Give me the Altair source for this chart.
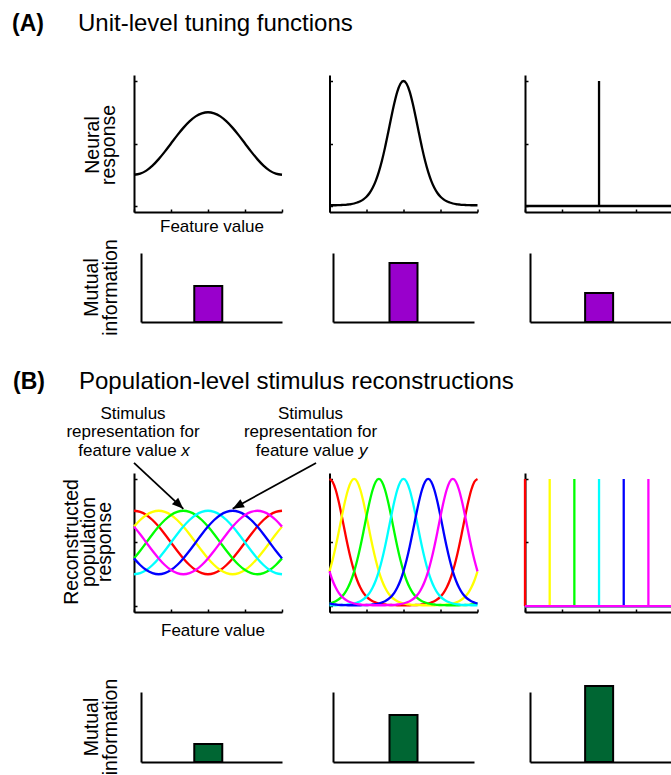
import altair as alt
import pandas as pd

FONT = "Liberation Sans"

# ---------------- data ----------------
# feature-value sample positions
T25 = [0.0, 0.0417, 0.0833, 0.125, 0.1667, 0.2083, 0.25, 0.2917, 0.3333, 0.375,
       0.4167, 0.4583, 0.5, 0.5417, 0.5833, 0.625, 0.6667, 0.7083, 0.75, 0.7917,
       0.8333, 0.875, 0.9167, 0.9583, 1.0]
T49 = [0.0, 0.0208, 0.0417, 0.0625, 0.0833, 0.1042, 0.125, 0.1458, 0.1667, 0.1875,
       0.2083, 0.2292, 0.25, 0.2708, 0.2917, 0.3125, 0.3333, 0.3542, 0.375, 0.3958,
       0.4167, 0.4375, 0.4583, 0.4792, 0.5, 0.5208, 0.5417, 0.5625, 0.5833, 0.6042,
       0.625, 0.6458, 0.6667, 0.6875, 0.7083, 0.7292, 0.75, 0.7708, 0.7917, 0.8125,
       0.8333, 0.8542, 0.875, 0.8958, 0.9167, 0.9375, 0.9583, 0.9792, 1.0]

# (A) unit-level tuning functions
A1_RESP = [0.25, 0.259, 0.283, 0.323, 0.375, 0.435, 0.5, 0.565, 0.625, 0.677, 0.717, 0.741, 0.75,
           0.741, 0.717, 0.677, 0.625, 0.565, 0.5, 0.435, 0.375, 0.323, 0.283, 0.259, 0.25]
A2_RESP = [0.006, 0.006, 0.006, 0.007, 0.008, 0.009, 0.012, 0.015, 0.020, 0.028, 0.038, 0.053,
           0.074, 0.104, 0.146, 0.201, 0.273, 0.362, 0.467, 0.584, 0.706, 0.820, 0.915, 0.978, 1.0,
           0.978, 0.915, 0.820, 0.706, 0.584, 0.467, 0.362, 0.273, 0.201, 0.146, 0.104, 0.074,
           0.053, 0.038, 0.028, 0.020, 0.015, 0.012, 0.009, 0.008, 0.007, 0.006, 0.006, 0.006]
A3_PEAK = [0.5]
A3_PEAK_HEIGHT = [1.0]
BASE_T = [0.0, 1.0]
BASE_V = [0.0, 0.0]

# mutual information bars
MI_A = [0.52, 0.855, 0.42]
MI_B = [0.257, 0.67, 1.086]
BAR_POS = [0.5]

# (B) population-level reconstructions
SERIES = ["red", "yellow", "green", "cyan", "blue", "magenta"]
COLORS = ["#ff0000", "#ffff00", "#00ff00", "#00ffff", "#0000ff", "#ff00ff"]

B1_RED = [0.75, 0.741, 0.717, 0.677, 0.625, 0.565, 0.5, 0.435, 0.375, 0.323, 0.283, 0.259, 0.25,
          0.259, 0.283, 0.323, 0.375, 0.435, 0.5, 0.565, 0.625, 0.677, 0.717, 0.741, 0.75]
B1_YELLOW = [0.625, 0.677, 0.717, 0.741, 0.75, 0.741, 0.717, 0.677, 0.625, 0.565, 0.5, 0.435, 0.375,
             0.323, 0.283, 0.259, 0.25, 0.259, 0.283, 0.323, 0.375, 0.435, 0.5, 0.565, 0.625]
B1_GREEN = [0.375, 0.435, 0.5, 0.565, 0.625, 0.677, 0.717, 0.741, 0.75, 0.741, 0.717, 0.677, 0.625,
            0.565, 0.5, 0.435, 0.375, 0.323, 0.283, 0.259, 0.25, 0.259, 0.283, 0.323, 0.375]
B1_CYAN = [0.25, 0.259, 0.283, 0.323, 0.375, 0.435, 0.5, 0.565, 0.625, 0.677, 0.717, 0.741, 0.75,
           0.741, 0.717, 0.677, 0.625, 0.565, 0.5, 0.435, 0.375, 0.323, 0.283, 0.259, 0.25]
B1_BLUE = [0.375, 0.323, 0.283, 0.259, 0.25, 0.259, 0.283, 0.323, 0.375, 0.435, 0.5, 0.565, 0.625,
           0.677, 0.717, 0.741, 0.75, 0.741, 0.717, 0.677, 0.625, 0.565, 0.5, 0.435, 0.375]
B1_MAGENTA = [0.625, 0.565, 0.5, 0.435, 0.375, 0.323, 0.283, 0.259, 0.25, 0.259, 0.283, 0.323, 0.375,
              0.435, 0.5, 0.565, 0.625, 0.677, 0.717, 0.741, 0.75, 0.741, 0.717, 0.677, 0.625]

B2_RED = [1.0, 0.978, 0.915, 0.820, 0.706, 0.584, 0.467, 0.362, 0.273, 0.201, 0.146, 0.104, 0.074,
          0.053, 0.038, 0.028, 0.020, 0.015, 0.012, 0.009, 0.008, 0.007, 0.006, 0.006, 0.006,
          0.006, 0.006, 0.007, 0.008, 0.009, 0.012, 0.015, 0.020, 0.028, 0.038, 0.053, 0.074,
          0.104, 0.146, 0.201, 0.273, 0.362, 0.467, 0.584, 0.706, 0.820, 0.915, 0.978, 1.0]
B2_YELLOW = [0.273, 0.362, 0.467, 0.584, 0.706, 0.820, 0.915, 0.978, 1.0, 0.978, 0.915, 0.820, 0.706,
             0.584, 0.467, 0.362, 0.273, 0.201, 0.146, 0.104, 0.074, 0.053, 0.038, 0.028, 0.020,
             0.015, 0.012, 0.009, 0.008, 0.007, 0.006, 0.006, 0.006, 0.006, 0.006, 0.007, 0.008,
             0.009, 0.012, 0.015, 0.020, 0.028, 0.038, 0.053, 0.074, 0.104, 0.146, 0.201, 0.273]
B2_GREEN = [0.020, 0.028, 0.038, 0.053, 0.074, 0.104, 0.146, 0.201, 0.273, 0.362, 0.467, 0.584, 0.706,
            0.820, 0.915, 0.978, 1.0, 0.978, 0.915, 0.820, 0.706, 0.584, 0.467, 0.362, 0.273,
            0.201, 0.146, 0.104, 0.074, 0.053, 0.038, 0.028, 0.020, 0.015, 0.012, 0.009, 0.008,
            0.007, 0.006, 0.006, 0.006, 0.006, 0.006, 0.007, 0.008, 0.009, 0.012, 0.015, 0.020]
B2_CYAN = [0.006, 0.006, 0.006, 0.007, 0.008, 0.009, 0.012, 0.015, 0.020, 0.028, 0.038, 0.053,
           0.074, 0.104, 0.146, 0.201, 0.273, 0.362, 0.467, 0.584, 0.706, 0.820, 0.915, 0.978, 1.0,
           0.978, 0.915, 0.820, 0.706, 0.584, 0.467, 0.362, 0.273, 0.201, 0.146, 0.104, 0.074,
           0.053, 0.038, 0.028, 0.020, 0.015, 0.012, 0.009, 0.008, 0.007, 0.006, 0.006, 0.006]
B2_BLUE = [0.020, 0.015, 0.012, 0.009, 0.008, 0.007, 0.006, 0.006, 0.006, 0.006, 0.006, 0.007, 0.008,
           0.009, 0.012, 0.015, 0.020, 0.028, 0.038, 0.053, 0.074, 0.104, 0.146, 0.201, 0.273,
           0.362, 0.467, 0.584, 0.706, 0.820, 0.915, 0.978, 1.0, 0.978, 0.915, 0.820, 0.706,
           0.584, 0.467, 0.362, 0.273, 0.201, 0.146, 0.104, 0.074, 0.053, 0.038, 0.028, 0.020]
B2_MAGENTA = [0.273, 0.201, 0.146, 0.104, 0.074, 0.053, 0.038, 0.028, 0.020, 0.015, 0.012, 0.009,
              0.008, 0.007, 0.006, 0.006, 0.006, 0.006, 0.006, 0.007, 0.008, 0.009, 0.012, 0.015,
              0.020, 0.028, 0.038, 0.053, 0.074, 0.104, 0.146, 0.201, 0.273, 0.362, 0.467, 0.584,
              0.706, 0.820, 0.915, 0.978, 1.0, 0.978, 0.915, 0.820, 0.706, 0.584, 0.467, 0.362, 0.273]

B1_CURVES = [B1_RED, B1_YELLOW, B1_GREEN, B1_CYAN, B1_BLUE, B1_MAGENTA]
B2_CURVES = [B2_RED, B2_YELLOW, B2_GREEN, B2_CYAN, B2_BLUE, B2_MAGENTA]
B3_PEAKS = [0.0, 0.1667, 0.3333, 0.5, 0.6667, 0.8333]
B3_PEAK_HEIGHT = [1.0, 1.0, 1.0, 1.0, 1.0, 1.0]

# annotation arrows (start -> tip, in panel B1 data units)
ARROW_X = [0.0, 1.23]
ARROW_Y = [1.126, 1.126]
ARROW_TIP_X = [0.3333, 0.6667]
ARROW_TIP_Y = [0.765, 0.765]
ARROW_ANGLE = [133.4, 240.7]

# ---------------- layout helpers ----------------
ONE = pd.DataFrame({"k": [0]})
AX = dict(labels=False, title=None, grid=False, domainColor="black", domainWidth=2,
          tickColor="black", tickWidth=1.5, tickSize=3)
AXB = dict(labels=False, title=None, grid=False, domainColor="black", domainWidth=2, ticks=False)

COL_W = [148, 148, 146]
TOP_XDOM = [[0, 1], [0, 1], [0, 0.986]]
TOP_XTICKS = [[0, 0.25, 0.5, 0.75, 1], [0, 0.25, 0.5, 0.75, 1], [0, 0.25, 0.5, 0.75]]
BAR_XDOM = [[0.047, 1.0], [0.024, 0.976], [0.034, 0.986]]
BAR_XRANGE = [[7, 148], [3.5, 144.5], [5, 146]]
ROW_H = [178, 220, 219, 70]
PLOT_H = [137, 69, 139, 70]
YDOM_A = [-0.048, 1.048]
YDOM_B = [-0.047, 1.047]
LW = 2.3


def top_x(col, ph, field):
    return alt.X(f"{field}:Q", scale=alt.Scale(domain=TOP_XDOM[col]),
                 axis=alt.Axis(orient="top", offset=-ph, values=TOP_XTICKS[col], **AX))


def top_y(col, ph, ydom, field):
    return alt.Y(f"{field}:Q", scale=alt.Scale(domain=ydom, range=[ph, 0]),
                 axis=alt.Axis(orient="right", offset=-COL_W[col], values=[0, 0.5, 1], **AX))


def txt(text, x, y, size=17, align="center", baseline="alphabetic", angle=None,
        weight="normal", style="normal", line_height=None):
    kw = dict(text=text, align=align, baseline=baseline, fontSize=size, font=FONT,
              color="black", fontWeight=weight, fontStyle=style)
    if angle is not None:
        kw["angle"] = angle
    if line_height is not None:
        kw["lineHeight"] = line_height
    return alt.Chart(ONE).mark_text(**kw).encode(x=alt.value(x), y=alt.value(y))


def line_layer(ts, vs, col, ph, ydom, color="black", clip=False):
    df = pd.DataFrame({"t": ts, "v": vs})
    return alt.Chart(df).mark_line(color=color, strokeWidth=LW, interpolate="monotone", clip=clip).encode(
        x=top_x(col, ph, "t"), y=top_y(col, ph, ydom, "v"))


def spike_layer(ts, hs, col, ph, ydom, color="black"):
    df = pd.DataFrame({"t": ts, "lo": [0.0] * len(ts), "hi": hs})
    return alt.Chart(df).mark_rule(color=color, strokeWidth=LW).encode(
        x=top_x(col, ph, "t"), y=top_y(col, ph, ydom, "lo"), y2="hi:Q")


def bar_cell(col, ph, h, value, color):
    df = pd.DataFrame({"pos": BAR_POS, "mi": [value]})
    return alt.Chart(df).mark_bar(size=28, fill=color, stroke="black", strokeWidth=2,
                                  orient="vertical").encode(
        x=alt.X("pos:Q", scale=alt.Scale(domain=BAR_XDOM[col], range=BAR_XRANGE[col]),
                axis=alt.Axis(orient="top", offset=-ph, **AXB)),
        y=alt.Y("mi:Q", scale=alt.Scale(domain=[0, 1], range=[ph, 0]),
                axis=alt.Axis(orient="left", offset=-BAR_XRANGE[col][0], **AXB)),
    )


# ---------------- row 1 : (A) tuning functions ----------------
anchor = alt.Chart(ONE).mark_rule(strokeWidth=0, strokeOpacity=0).encode(
    x=alt.value(-134), y=alt.value(-75), x2=alt.value(537), y2=alt.value(700))

ph = PLOT_H[0]
A1 = alt.layer(
    line_layer(T25, A1_RESP, 0, ph, YDOM_A),
    txt("(A)", -122, -44.5, size=23, align="left", weight="bold"),
    txt("Unit-level tuning functions", -56, -44.5, size=24, align="left"),
    txt(["Neural", "response"], -35.5, 70, size=19.5, angle=270, line_height=16.5),
    txt("Feature value", 78, 157),
    anchor,
).properties(width=COL_W[0], height=ROW_H[0])

A2 = alt.layer(line_layer(T49, A2_RESP, 1, ph, YDOM_A)).properties(width=COL_W[1], height=ROW_H[0])

A3 = alt.layer(
    line_layer(BASE_T, BASE_V, 2, ph, YDOM_A, clip=True),
    spike_layer(A3_PEAK, A3_PEAK_HEIGHT, 2, ph, YDOM_A),
).properties(width=COL_W[2], height=ROW_H[0])

# ---------------- row 2 : (A) mutual information ----------------
PURPLE = "#9900cc"
ph = PLOT_H[1]
Ab1 = alt.layer(
    bar_cell(0, ph, ROW_H[1], MI_A[0], PURPLE),
    txt(["Mutual", "information"], -36, 34.5, size=19.5, angle=270, line_height=18.5),
).properties(width=COL_W[0], height=ROW_H[1])
Ab2 = alt.layer(bar_cell(1, ph, ROW_H[1], MI_A[1], PURPLE)).properties(width=COL_W[1], height=ROW_H[1])
Ab3 = alt.layer(bar_cell(2, ph, ROW_H[1], MI_A[2], PURPLE)).properties(width=COL_W[2], height=ROW_H[1])

# ---------------- row 3 : (B) reconstructions ----------------
ph = PLOT_H[2]
arrow_df = pd.DataFrame({"ax": ARROW_X, "ay": ARROW_Y, "tx": ARROW_TIP_X, "ty": ARROW_TIP_Y,
                         "ang": ARROW_ANGLE})
arrow_lines = alt.Chart(arrow_df).mark_rule(color="black", strokeWidth=1.8).encode(
    x=top_x(0, ph, "ax"), y=top_y(0, ph, YDOM_B, "ay"), x2="tx:Q", y2="ty:Q")
arrow_heads = alt.Chart(arrow_df).mark_point(
    shape="M0,0L-0.4,1L0.4,1Z", filled=True, color="black", size=520, opacity=1, strokeWidth=0
).encode(x=top_x(0, ph, "tx"), y=top_y(0, ph, YDOM_B, "ty"), angle=alt.Angle("ang:Q", scale=None))

b1_layers = [line_layer(T25, vs, 0, ph, YDOM_B, color=c) for vs, c in zip(B1_CURVES, COLORS)]
B1 = alt.layer(
    *b1_layers,
    arrow_lines,
    arrow_heads,
    txt("(B)", -121, -84, size=23, align="left", weight="bold"),
    txt("Population-level stimulus reconstructions", -55, -84, size=24, align="left"),
    txt("Stimulus", -1, -54),
    txt("representation for", -1, -36),
    txt("feature value", 42.6, -17, align="right"),
    txt("x", 47.3, -17, align="left", style="italic"),
    txt("Stimulus", 176.5, -54),
    txt("representation for", 176.5, -36),
    txt("feature value", 220, -17, align="right"),
    txt("y", 225, -17, align="left", style="italic"),
    txt(["Reconstructed", "population", "response"], -56, 69, size=19.5, angle=270, line_height=16.5),
    txt("Feature value", 79, 163),
).properties(width=COL_W[0], height=ROW_H[2])

b2_layers = [line_layer(T49, vs, 1, ph, YDOM_B, color=c) for vs, c in zip(B2_CURVES, COLORS)]
B2 = alt.layer(*b2_layers).properties(width=COL_W[1], height=ROW_H[2])

b3_spikes = [spike_layer([p], [h], 2, ph, YDOM_B, color=c)
             for p, h, c in zip(B3_PEAKS, B3_PEAK_HEIGHT, COLORS)]
b3_bases = [line_layer(BASE_T, BASE_V, 2, ph, YDOM_B, color=c, clip=True) for c in COLORS]
B3 = alt.layer(*b3_spikes, *b3_bases).properties(width=COL_W[2], height=ROW_H[2])

# ---------------- row 4 : (B) mutual information ----------------
GREEN = "#006633"
ph = PLOT_H[3]
Bb1 = alt.layer(
    bar_cell(0, ph, ROW_H[3], MI_B[0], GREEN),
    txt(["Mutual", "information"], -36, 35, size=19.5, angle=270, line_height=18.5),
).properties(width=COL_W[0], height=ROW_H[3])
Bb2 = alt.layer(bar_cell(1, ph, ROW_H[3], MI_B[1], GREEN)).properties(width=COL_W[1], height=ROW_H[3])
Bb3 = alt.layer(bar_cell(2, ph, ROW_H[3], MI_B[2], GREEN)).properties(width=COL_W[2], height=ROW_H[3])

chart = alt.concat(
    A1, A2, A3, Ab1, Ab2, Ab3, B1, B2, B3, Bb1, Bb2, Bb3,
    columns=3,
    spacing={"row": 0, "column": 47.5},
    bounds="flush",
    align="each",
).properties(padding=0).configure(font=FONT).configure_view(stroke=None)

chart.save("out.html", embed_options={"renderer": "svg", "actions": False})
